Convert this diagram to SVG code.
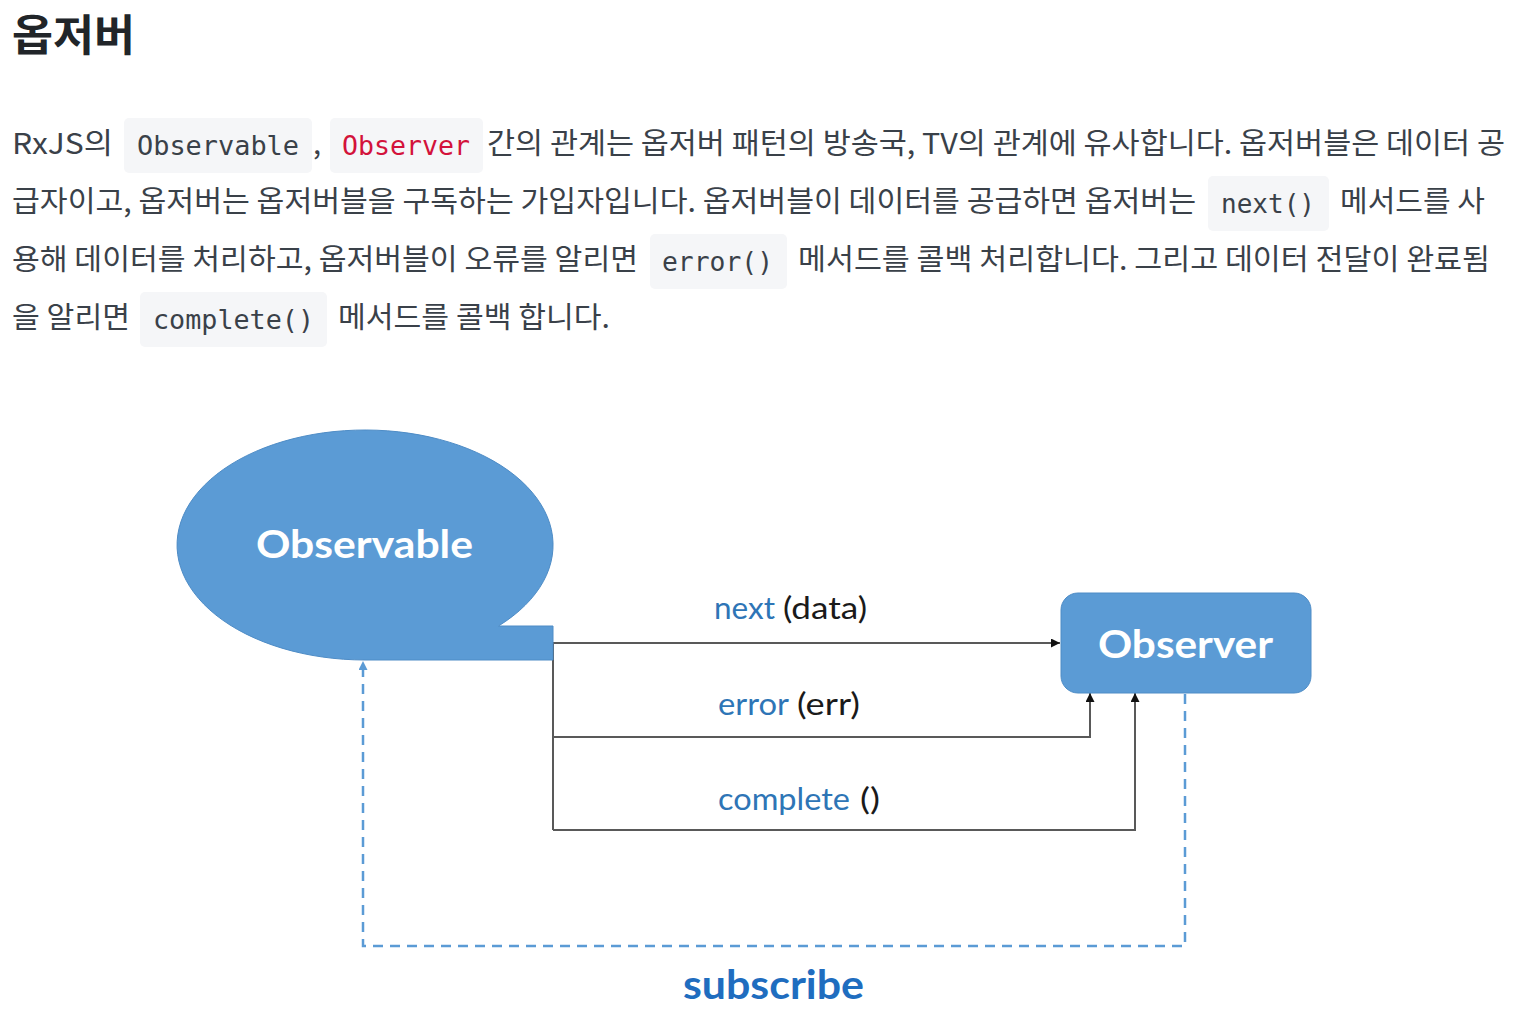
<svg xmlns="http://www.w3.org/2000/svg" width="1522" height="1018" viewBox="0 0 1522 1018">
<style>
.title{font-family:"Noto Sans CJK KR","Noto Sans",sans-serif;font-weight:700;font-size:43px;fill:#212529}
.p{font-family:"Noto Sans CJK KR","Noto Sans",sans-serif;font-size:29px;fill:#3a4149}
.code{font-family:"DejaVu Sans Mono","Liberation Mono",monospace;font-size:26px;fill:#3a4149}
.red{fill:#d3123b}
.cbox{fill:#f5f6f8}
.node{fill:#5b9bd5;stroke:#4e8cc6;stroke-width:1}
.ntext{font-family:Lato,"Open Sans",sans-serif;font-weight:700;font-size:39px;fill:#ffffff}
.lbl{font-family:Lato,"Open Sans",sans-serif;font-size:31px}
.blue{fill:#2e75b6}
.blk{fill:#1a1a1a}
.line{fill:none;stroke:#595959;stroke-width:2}
.dash{fill:none;stroke:#5b9bd5;stroke-width:2.5;stroke-dasharray:10 7}
.sub{font-family:Lato,"Open Sans",sans-serif;font-weight:700;font-size:41px;fill:#1f6dbf}
</style>
<defs>
<marker id="ah" viewBox="0 0 10 10" refX="10" refY="5" markerWidth="11" markerHeight="9" markerUnits="userSpaceOnUse" orient="auto">
<path d="M0 0 L10 5 L0 10 Z" fill="#111"/>
</marker>
<marker id="ahb" viewBox="0 0 10 10" refX="10" refY="5" markerWidth="10" markerHeight="9" markerUnits="userSpaceOnUse" orient="auto">
<path d="M0 0 L10 5 L0 10 Z" fill="#5b9bd5"/>
</marker>
</defs>
<rect width="1522" height="1018" fill="#ffffff"/>

<g id="heading">
<text class="title" x="12" y="51" textLength="123" lengthAdjust="spacingAndGlyphs">옵저버</text>
</g>

<g id="paragraph">
<rect class="cbox" x="124" y="118" width="188" height="55" rx="5"/>
<rect class="cbox" x="330" y="118" width="153" height="55" rx="5"/>
<rect class="cbox" x="1208" y="176" width="121" height="55" rx="5"/>
<rect class="cbox" x="650" y="234" width="137" height="55" rx="5"/>
<rect class="cbox" x="140" y="292" width="187" height="55" rx="5"/>

<text class="p" x="12" y="154" textLength="101" lengthAdjust="spacingAndGlyphs">RxJS의</text>
<text class="code" x="137" y="155" textLength="162" lengthAdjust="spacingAndGlyphs">Observable</text>
<text class="p" x="313" y="154">,</text>
<text class="code red" x="342" y="155" textLength="128" lengthAdjust="spacingAndGlyphs">Observer</text>
<text class="p" x="487" y="154" textLength="1018" lengthAdjust="spacingAndGlyphs">간의 관계는 옵저버 패턴의 방송국, TV의 관계에 유사합니다. 옵저버블은 데이터 공</text>

<text class="p" x="12" y="212" textLength="1184" lengthAdjust="spacingAndGlyphs">급자이고, 옵저버는 옵저버블을 구독하는 가입자입니다. 옵저버블이 데이터를 공급하면 옵저버는</text>
<text class="code" x="1221" y="213" textLength="94" lengthAdjust="spacingAndGlyphs">next()</text>
<text class="p" x="1340" y="212" textLength="145" lengthAdjust="spacingAndGlyphs">메서드를 사</text>

<text class="p" x="12" y="270" textLength="626" lengthAdjust="spacingAndGlyphs">용해 데이터를 처리하고, 옵저버블이 오류를 알리면</text>
<text class="code" x="662" y="271" textLength="111" lengthAdjust="spacingAndGlyphs">error()</text>
<text class="p" x="798" y="270" textLength="692" lengthAdjust="spacingAndGlyphs">메서드를 콜백 처리합니다. 그리고 데이터 전달이 완료됨</text>

<text class="p" x="12" y="328" textLength="118" lengthAdjust="spacingAndGlyphs">을 알리면</text>
<text class="code" x="153" y="329" textLength="161" lengthAdjust="spacingAndGlyphs">complete()</text>
<text class="p" x="338" y="328" textLength="272" lengthAdjust="spacingAndGlyphs">메서드를 콜백 합니다.</text>
</g>

<g id="connectors">
<path class="line" d="M553 643 V830"/>
<path class="line" d="M553 643 H1060" marker-end="url(#ah)"/>
<path class="line" d="M553 737 H1090 V693" marker-end="url(#ah)"/>
<path class="line" d="M553 830 H1135 V693" marker-end="url(#ah)"/>
<path class="dash" d="M1185 694 V946 H363 V661" marker-end="url(#ahb)"/>
</g>

<g id="observable">
<path class="node" d="M365 660 A188 115 0 1 1 498.5 626 L553 626 L553 660 Z"/>
<text class="ntext" x="256" y="558" textLength="217" lengthAdjust="spacingAndGlyphs">Observable</text>
</g>

<g id="observer">
<rect class="node" x="1061" y="593" width="250" height="100" rx="17"/>
<text class="ntext" x="1098" y="658" textLength="175" lengthAdjust="spacingAndGlyphs">Observer</text>
</g>

<g id="labels">
<text class="lbl blue" x="714" y="619" textLength="61" lengthAdjust="spacingAndGlyphs">next</text>
<text class="lbl blk" x="783" y="619" textLength="84" lengthAdjust="spacingAndGlyphs">(data)</text>
<text class="lbl blue" x="718" y="715" textLength="71" lengthAdjust="spacingAndGlyphs">error</text>
<text class="lbl blk" x="797" y="715" textLength="63" lengthAdjust="spacingAndGlyphs">(err)</text>
<text class="lbl blue" x="718" y="810" textLength="132" lengthAdjust="spacingAndGlyphs">complete</text>
<text class="lbl blk" x="860" y="810" textLength="20" lengthAdjust="spacingAndGlyphs">()</text>
<text class="sub" x="683" y="999" textLength="181" lengthAdjust="spacingAndGlyphs">subscribe</text>
</g>
</svg>
